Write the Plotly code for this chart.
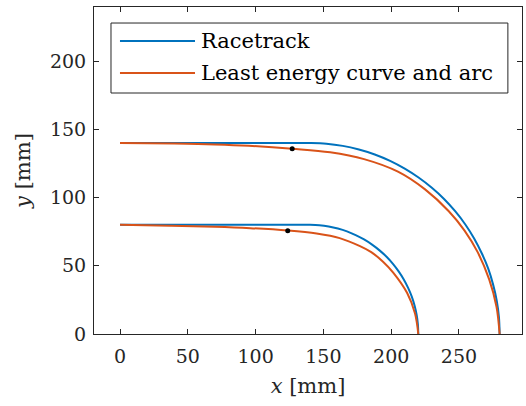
import plotly.graph_objects as go

# Racetrack centre lines (straight section followed by a quarter circle)
race_outer_x = [0, 60, 120, 140, 152.2, 164.3, 176.2, 187.9, 199.2, 210.0, 220.2, 230.0, 239.0, 247.2, 254.7, 261.2, 266.8, 271.6, 275.2, 277.9, 279.5, 280.0]
race_outer_y = [140, 140, 140, 140, 139.5, 137.9, 135.2, 131.6, 126.9, 121.2, 114.7, 107.2, 99.0, 90.0, 80.3, 70.0, 59.2, 47.9, 36.2, 24.3, 12.2, 0.0]
race_inner_x = [0, 60, 120, 140, 147.0, 153.9, 160.7, 167.4, 173.8, 180.0, 185.9, 191.4, 196.6, 201.3, 205.5, 209.3, 212.5, 215.2, 217.3, 218.8, 219.7, 220.0]
race_inner_y = [80, 80, 80, 80, 79.7, 78.8, 77.3, 75.2, 72.5, 69.3, 65.5, 61.3, 56.6, 51.4, 45.9, 40.0, 33.8, 27.4, 20.7, 13.9, 7.0, 0.0]

# Least energy transition curve joined to an arc
lec_outer_x = [0, 40, 70, 95, 127, 155, 180, 205, 225, 242.5, 254, 263.8, 272.3, 277.7, 280]
lec_outer_y = [140, 139.6, 139, 138, 135.8, 133.2, 128.2, 119, 106, 90, 76, 60, 40, 20, 0]
lec_inner_x = [0, 37, 70, 96, 124, 145, 162, 177, 185.3, 194, 201.5, 211.8, 217.6, 220]
lec_inner_y = [80, 79.3, 78.6, 77.6, 75.8, 73.6, 70.3, 64.4, 60, 53, 45, 30, 15, 0]

# Junction points between transition curve and arc
junction_x = [127, 123.7]
junction_y = [135.8, 75.7]

legend_labels = ["Racetrack", "Least energy curve and arc"]
x_ticks = [0, 50, 100, 150, 200, 250]
y_ticks = [0, 50, 100, 150, 200]

BLUE = "#0072BD"
ORANGE = "#D95319"
AX = "#262626"
FONT = "DejaVu Serif"

fig = go.Figure()
for xs, ys, col in [
    (race_outer_x, race_outer_y, BLUE),
    (race_inner_x, race_inner_y, BLUE),
    (lec_outer_x, lec_outer_y, ORANGE),
    (lec_inner_x, lec_inner_y, ORANGE),
]:
    fig.add_trace(go.Scatter(x=xs, y=ys, mode="lines",
                             line=dict(color=col, width=2, shape="spline", smoothing=1.0),
                             showlegend=False, hoverinfo="skip"))

fig.add_trace(go.Scatter(x=junction_x, y=junction_y, mode="markers",
                         marker=dict(color="black", size=5),
                         showlegend=False, hoverinfo="skip"))

axis_common = dict(showline=True, linecolor=AX, linewidth=1, mirror="ticks",
                   ticks="inside", ticklen=5, tickwidth=1, tickcolor=AX,
                   showgrid=False, zeroline=False,
                   tickfont=dict(family=FONT, size=19, color=AX))

fig.update_layout(
    width=526, height=406,
    margin=dict(l=94, r=4, t=7, b=72),
    paper_bgcolor="white", plot_bgcolor="white",
    xaxis=dict(range=[-19.2, 296.5], tickvals=x_ticks, ticklabelstandoff=5,
               title=dict(text="<i>x</i> [mm]", font=dict(family=FONT, size=21, color=AX), standoff=12),
               **axis_common),
    yaxis=dict(range=[0, 239.7], tickvals=y_ticks, ticklabelstandoff=3,
               title=dict(text="<i>y</i> [mm]", font=dict(family=FONT, size=21, color=AX), standoff=13),
               **axis_common),
)

# Legend box drawn by hand so the sample lines match the long MATLAB style
lx0, lx1, ly0, ly1 = 0.0397, 0.967, 0.737, 0.951
fig.add_shape(type="rect", xref="paper", yref="paper", x0=lx0, x1=lx1, y0=ly0, y1=ly1,
              line=dict(color=AX, width=1), fillcolor="white", layer="above")
for ypos, col, label in [(0.896, BLUE, legend_labels[0]), (0.798, ORANGE, legend_labels[1])]:
    fig.add_shape(type="line", xref="paper", yref="paper", x0=0.0607, x1=0.236, y0=ypos, y1=ypos,
                  line=dict(color=col, width=2), layer="above")
    fig.add_annotation(xref="paper", yref="paper", x=0.2445, y=ypos, text=label, showarrow=False,
                       xanchor="left", yanchor="middle",
                       font=dict(family=FONT, size=21, color="black"))

fig.write_html("out.html")
